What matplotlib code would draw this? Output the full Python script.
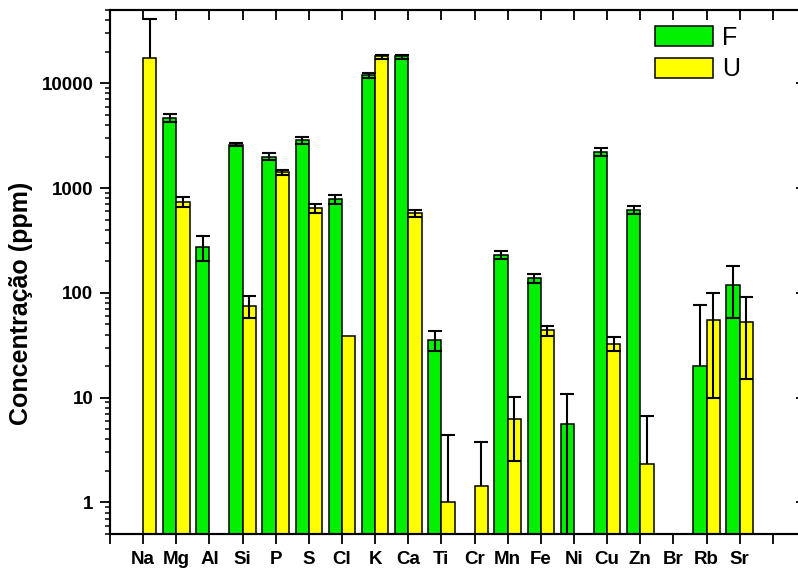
import numpy as np
import matplotlib
matplotlib.use("Agg")
import matplotlib.pyplot as plt
from matplotlib.ticker import LogLocator, FuncFormatter, NullFormatter

plt.rcParams['font.family'] = ['Liberation Sans', 'DejaVu Sans']

nan = np.nan

# elemental concentrations (ppm) for the two sample groups
elements = ['Na', 'Mg', 'Al', 'Si', 'P', 'S', 'Cl', 'K', 'Ca', 'Ti',
            'Cr', 'Mn', 'Fe', 'Ni', 'Cu', 'Zn', 'Br', 'Rb', 'Sr']
f_vals = [nan, 4700, 275, 2600, 2000, 2870, 780, 11900, 18000, 35.7,
          nan, 230, 138, 5.6, 2220, 617, nan, 20, 120]
f_err = [nan, 430, 75, 100, 150, 210, 75, 600, 800, 8,
         nan, 20, 13, 5.3, 200, 55, nan, 57, 62]
u_vals = [17600, 740, nan, 75, 1410, 640, 38.4, 18000, 575, 1.0,
          1.45, 6.3, 43.8, nan, 32.7, 2.35, nan, 55, 53]
u_err = [23100, 85, nan, 18, 75, 60, nan, 800, 45, 3.4,
         2.3, 3.8, 5, nan, 5, 4.4, nan, 45, 38]

GREEN = '#00f000'
YELLOW = '#ffff00'
BAR_W = 0.4
XLIM = (0, 21)
YLIM = (0.5, 50000)
xticks = np.arange(0, 21)

fig = plt.figure(figsize=(7.98, 5.73), dpi=100)
ax = fig.add_axes([110 / 798, 39 / 573, 696 / 798, 524 / 573])

# right-hand frame with inward log ticks
right = ax.twinx()

pos = np.arange(1, len(elements) + 1)
f_x = pos - BAR_W / 2
u_x = pos + BAR_W / 2

ax.bar(f_x, f_vals, width=BAR_W, color=GREEN, edgecolor='black', linewidth=1.1,
       label='F', zorder=2)
ax.bar(u_x, u_vals, width=BAR_W, color=YELLOW, edgecolor='black', linewidth=1.1,
       label='U', zorder=2)


def draw_errors(xs, vals, errs):
    # lower half is dropped when it would go below zero
    for x, v, e in zip(xs, vals, errs):
        if not (np.isfinite(v) and np.isfinite(e)):
            continue
        caps = [v + e]
        low = v
        if e < v:
            low = v - e
            caps.append(low)
        ax.vlines(x, low, v + e, color='black', linewidth=1.5, zorder=3)
        ax.plot([x] * len(caps), caps, ls='none', marker='_', ms=9.5,
                mew=1.5, color='black', zorder=3)


draw_errors(f_x, f_vals, f_err)
draw_errors(u_x, u_vals, u_err)

ax.set_yscale('log')
ax.set_ylim(*YLIM)
ax.set_xlim(*XLIM)

ax.set_xticks(xticks)
ax.set_xticklabels([''] + elements + [''])
ax.yaxis.set_major_locator(LogLocator(base=10, numticks=10))
ax.yaxis.set_minor_locator(LogLocator(base=10, subs=np.arange(2, 10), numticks=20))
ax.yaxis.set_major_formatter(FuncFormatter(lambda v, p: f'{v:g}'))
ax.yaxis.set_minor_formatter(NullFormatter())

ax.tick_params(axis='x', which='major', direction='out', length=7, width=1.3,
               labelsize=13.5, pad=5)
ax.tick_params(axis='y', which='major', direction='out', length=7, width=1.3,
               labelsize=13.5, pad=5)
ax.tick_params(axis='y', which='minor', direction='out', length=3.5, width=1.1)

for lbl in ax.get_xticklabels() + ax.get_yticklabels():
    lbl.set_fontweight('bold')

# inward tick marks hanging from the top frame
ax.vlines(xticks, 1 - 10 / 524, 1, transform=ax.get_xaxis_transform(),
          color='black', linewidth=1.3, zorder=4, clip_on=False)

right.set_yscale('log')
right.set_ylim(*YLIM)
right.yaxis.set_major_locator(LogLocator(base=10, numticks=10))
right.yaxis.set_minor_locator(LogLocator(base=10, subs=np.arange(2, 10), numticks=20))
right.tick_params(axis='y', which='major', direction='in', length=7, width=1.3,
                  labelright=False)
right.tick_params(axis='y', which='minor', direction='in', length=3.5, width=1.1)

for a in (ax, right):
    for s in a.spines.values():
        s.set_linewidth(1.5)

ax.set_ylabel('Concentração (ppm)', fontsize=18, fontweight='bold')
ax.yaxis.set_label_coords(-0.111, 0.44)

ax.legend(loc='upper left', bbox_to_anchor=(655 / 798, 1 - 26 / 573),
          bbox_transform=fig.transFigure, frameon=False, fontsize=18,
          handlelength=2.3, handleheight=0.85, handletextpad=0.4,
          labelspacing=0.3, borderpad=0, borderaxespad=0)

fig.savefig('out.png', dpi=100)
